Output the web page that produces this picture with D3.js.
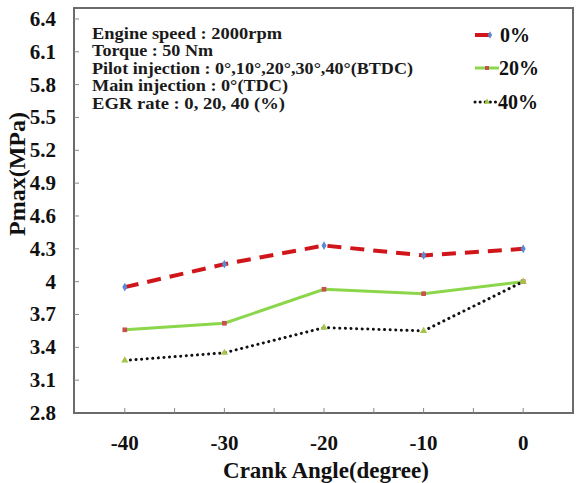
<!DOCTYPE html>
<html>
<head>
<meta charset="utf-8">
<script src="https://cdn.jsdelivr.net/npm/d3@7"></script>
<style>
    body { margin: 0; background: #fff; }
</style>
</head>
<body>
<div id="chart"></div>
<script>
// data
let crankAngles = [-40, -30, -20, -10, 0];
let egr0 = [3.95, 4.16, 4.33, 4.24, 4.30];
let egr20 = [3.56, 3.62, 3.93, 3.89, 4.00];
let egr40 = [3.28, 3.35, 3.58, 3.55, 4.00];
let seriesNames = ["0%", "20%", "40%"];
let yTicks = [2.8, 3.1, 3.4, 3.7, 4, 4.3, 4.6, 4.9, 5.2, 5.5, 5.8, 6.1, 6.4];
let xTicks = [-40, -30, -20, -10, 0];
let xMinorTicks = [-35, -25, -15, -5];
let notes = [
    "Engine speed : 2000rpm",
    "Torque  : 50 Nm",
    "Pilot injection : 0\u00b0,10\u00b0,20\u00b0,30\u00b0,40\u00b0(BTDC)",
    "Main injection : 0\u00b0(TDC)",
    "EGR rate : 0, 20, 40 (%)"
];
// measured widths of the condition lines in the picture
let noteWidths = [190, 121, 321, 196, 193];

let width = 579, height = 483;
let margin = {top: 8, right: 6, bottom: 70, left: 74};

let svg = d3.select("#chart").append("svg")
    .attr("width", width)
    .attr("height", height)
    .attr("font-family", "Liberation Serif")
    .attr("font-weight", "bold");

let x = d3.scaleLinear()
    .domain([-45.1, 5])
    .range([margin.left, width - margin.right]);

let y = d3.scaleLinear()
    .domain([2.8, 6.5])
    .range([height - margin.bottom, margin.top]);

// frame
svg.append("rect")
    .attr("x", margin.left)
    .attr("y", margin.top)
    .attr("width", width - margin.left - margin.right)
    .attr("height", height - margin.top - margin.bottom)
    .attr("fill", "none")
    .attr("stroke", "#6b6b6b")
    .attr("stroke-width", 2);

// y ticks (inside) + labels
svg.selectAll(".ytick")
    .data(yTicks.slice(1))
    .enter()
    .append("line")
    .attr("x1", margin.left)
    .attr("x2", margin.left + 5)
    .attr("y1", d => y(d))
    .attr("y2", d => y(d))
    .attr("stroke", "#888")
    .attr("stroke-width", 1);

svg.selectAll(".ylab")
    .data(yTicks)
    .enter()
    .append("text")
    .attr("x", 56)
    .attr("y", d => y(d) + 7)
    .attr("text-anchor", "end")
    .attr("fill", "#111")
    .attr("font-size", 21)
    .text(d => d);

// x ticks
svg.selectAll(".xtick")
    .data(xTicks.concat(xMinorTicks))
    .enter()
    .append("line")
    .attr("x1", d => x(d))
    .attr("x2", d => x(d))
    .attr("y1", y(2.8))
    .attr("y2", y(2.8) - 5)
    .attr("stroke", "#888")
    .attr("stroke-width", 1);

svg.selectAll(".xlab")
    .data(xTicks)
    .enter()
    .append("text")
    .attr("x", d => x(d))
    .attr("y", 450)
    .attr("text-anchor", "middle")
    .attr("fill", "#111")
    .attr("font-size", 21)
    .text(d => d);

// axis titles
svg.append("text")
    .attr("x", 326)
    .attr("y", 478)
    .attr("text-anchor", "middle")
    .attr("fill", "#111")
    .attr("font-size", 23)
    .text("Crank Angle(degree)");

svg.append("text")
    .attr("transform", `translate(25, 174) rotate(-90)`)
    .attr("text-anchor", "middle")
    .attr("fill", "#111")
    .attr("font-size", 24)
    .text("Pmax(MPa)");

// conditions box text
svg.selectAll(".note")
    .data(notes)
    .enter()
    .append("text")
    .attr("x", 92)
    .attr("y", (d, i) => 38.5 + i * 17.6)
    .attr("fill", "#1a1a1a")
    .attr("font-size", 17)
    .attr("textLength", (d, i) => noteWidths[i])
    .attr("lengthAdjust", "spacingAndGlyphs")
    .text(d => d);

let line = d3.line()
    .x((d, i) => x(crankAngles[i]))
    .y(d => y(d));

let series = [
    {name: seriesNames[0], values: egr0, color: "#d0161b", width: 4, dash: "14,9", marker: "diamond", markerColor: "#5a8ad6"},
    {name: seriesNames[1], values: egr20, color: "#8bd64a", width: 3, dash: null, marker: "square", markerColor: "#c9504f"},
    {name: seriesNames[2], values: egr40, color: "#111", width: 3, dash: "0.1,5.5", marker: "triangle", markerColor: "#a5c44a"}
];

let symbols = {diamond: d3.symbolDiamond, square: d3.symbolSquare, triangle: d3.symbolTriangle};

series.forEach(s => {
    svg.append("path")
        .datum(s.values)
        .attr("d", line)
        .attr("fill", "none")
        .attr("stroke", s.color)
        .attr("stroke-width", s.width)
        .attr("stroke-linecap", s.dash === "0.1,5.5" ? "round" : "butt")
        .attr("stroke-dasharray", s.dash);

    svg.selectAll(".m-" + s.marker)
        .data(s.values)
        .enter()
        .append("path")
        .attr("d", d3.symbol().type(symbols[s.marker]).size(22))
        .attr("transform", (d, i) => `translate(${x(crankAngles[i])}, ${y(d)})`)
        .attr("fill", s.markerColor);
});

// legend
let legendY = [35, 68, 102];
let legendEnd = [490, 499, 497];
let legendMark = [490, 487, 487];
let legendText = [500, 499, 498];
let legend = svg.append("g");
series.forEach((s, i) => {
    legend.append("line")
        .attr("x1", 475)
        .attr("x2", legendEnd[i])
        .attr("y1", legendY[i])
        .attr("y2", legendY[i])
        .attr("stroke", s.color)
        .attr("stroke-width", s.width)
        .attr("stroke-linecap", s.dash === "0.1,5.5" ? "round" : "butt")
        .attr("stroke-dasharray", s.dash === "0.1,5.5" ? "0.1,5" : null);
    legend.append("path")
        .attr("d", d3.symbol().type(symbols[s.marker]).size(16))
        .attr("transform", `translate(${legendMark[i]}, ${legendY[i]})`)
        .attr("fill", s.markerColor);
    legend.append("text")
        .attr("x", legendText[i])
        .attr("y", legendY[i] + 7)
        .attr("fill", "#111")
        .attr("font-size", 20)
        .text(s.name);
});
</script>
</body>
</html>
